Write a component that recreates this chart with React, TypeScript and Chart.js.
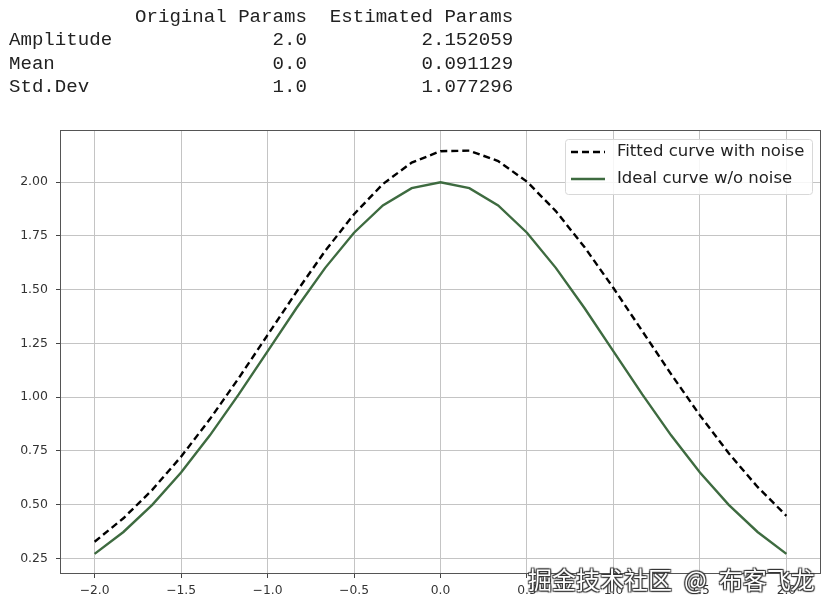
import React, { useEffect, useRef } from "react";
import { Chart, registerables } from "chart.js";

Chart.register(...registerables);

const xValues = [
  -2.0, -1.8333, -1.6667, -1.5, -1.3333, -1.1667, -1.0, -0.8333, -0.6667, -0.5, -0.3333, -0.1667,
  0.0, 0.1667, 0.3333, 0.5, 0.6667, 0.8333, 1.0, 1.1667, 1.3333, 1.5, 1.6667, 1.8333, 2.0,
];
const fittedValues = [
  0.3271, 0.4364, 0.5685, 0.723, 0.8978, 1.0885, 1.2886, 1.4891, 1.6804, 1.8513, 1.9914, 2.0913,
  2.1444, 2.1468, 2.0984, 2.0025, 1.8658, 1.6974, 1.5076, 1.3073, 1.107, 0.9151, 0.7385, 0.582, 0.4478,
];
const idealValues = [
  0.2707, 0.3725, 0.4987, 0.6493, 0.8222, 1.0127, 1.2131, 1.4134, 1.6015, 1.765, 1.8919, 1.9724,
  2.0, 1.9724, 1.8919, 1.765, 1.6015, 1.4134, 1.2131, 1.0127, 0.8222, 0.6493, 0.4987, 0.3725, 0.2707,
];
const xTicks = [-2.0, -1.5, -1.0, -0.5, 0.0, 0.5, 1.0, 1.5, 2.0];
const yTicks = [0.25, 0.5, 0.75, 1.0, 1.25, 1.5, 1.75, 2.0];
const seriesLabels = ["Fitted curve with noise", "Ideal curve w/o noise"];
const tableLines = [
  "           Original Params  Estimated Params",
  "Amplitude              2.0          2.152059",
  "Mean                   0.0          0.091129",
  "Std.Dev                1.0          1.077296",
];

const minus = (s: string) => s.replace("-", "\u2212");

const framePlugin = {
  id: "frameAndLegend",
  afterDraw(chart: any) {
    const { ctx, chartArea } = chart;
    ctx.save();
    ctx.strokeStyle = "#555";
    ctx.lineWidth = 1;
    ctx.setLineDash([]);
    ctx.strokeRect(chartArea.left + 0.5, chartArea.top + 0.5, chartArea.right - chartArea.left - 1, chartArea.bottom - chartArea.top - 1);

    // legend
    const bx = chartArea.right - 256;
    const by = chartArea.top + 9;
    const bw = 247;
    const bh = 55;
    ctx.fillStyle = "rgba(255,255,255,0.85)";
    ctx.strokeStyle = "#d8d8d8";
    ctx.beginPath();
    if (ctx.roundRect) ctx.roundRect(bx + 0.5, by + 0.5, bw, bh, 3);
    else ctx.rect(bx + 0.5, by + 0.5, bw, bh);
    ctx.fill();
    ctx.stroke();
    chart.data.datasets.forEach((ds: any, i: number) => {
      const y = by + 13 + i * 27;
      ctx.strokeStyle = ds.borderColor;
      ctx.lineWidth = ds.borderWidth;
      ctx.setLineDash(ds.borderDash || []);
      ctx.beginPath();
      ctx.moveTo(bx + 6, y);
      ctx.lineTo(bx + 40, y);
      ctx.stroke();
      ctx.setLineDash([]);
      ctx.fillStyle = "#222";
      ctx.font = "16.5px 'DejaVu Sans'";
      ctx.textBaseline = "middle";
      ctx.fillText(ds.label, bx + 52, y);
    });
    ctx.restore();
  },
};

export default function App() {
  const ref = useRef<HTMLCanvasElement>(null);
  useEffect(() => {
    if (!ref.current) return;
    const chart = new Chart(ref.current, {
      type: "line",
      data: {
        datasets: [
          {
            label: seriesLabels[0],
            data: xValues.map((x, i) => ({ x, y: fittedValues[i] })),
            borderColor: "#000000",
            borderWidth: 2.4,
            borderDash: [7, 4],
            pointRadius: 0,
            tension: 0,
            fill: false,
          },
          {
            label: seriesLabels[1],
            data: xValues.map((x, i) => ({ x, y: idealValues[i] })),
            borderColor: "#3e6b40",
            borderWidth: 2.4,
            pointRadius: 0,
            tension: 0,
            fill: false,
          },
        ],
      },
      options: {
        animation: false,
        responsive: false,
        events: [],
        layout: { padding: { top: 130, right: 11, left: 0, bottom: 0 } },
        plugins: { legend: { display: false }, tooltip: { enabled: false } },
        scales: {
          x: {
            type: "linear",
            min: -2.2,
            max: 2.2,
            afterBuildTicks: (s: any) => {
              s.ticks = xTicks.map((v) => ({ value: v }));
            },
            afterFit: (s: any) => {
              s.height = 38;
            },
            ticks: {
              callback: (v: any) => minus(Number(v).toFixed(1)),
              color: "#333",
              font: { family: "DejaVu Sans", size: 12.3 },
              padding: 5,
              maxRotation: 0,
            },
            grid: { color: "#c4c4c4", lineWidth: 1, tickLength: 4, tickColor: "#444" },
            border: { display: false },
          },
          y: {
            type: "linear",
            min: 0.177,
            max: 2.243,
            afterBuildTicks: (s: any) => {
              s.ticks = yTicks.map((v) => ({ value: v }));
            },
            afterFit: (s: any) => {
              s.width = 60;
            },
            ticks: {
              callback: (v: any) => Number(v).toFixed(2),
              color: "#333",
              font: { family: "DejaVu Sans", size: 12.5 },
              padding: 8,
            },
            grid: { color: "#c4c4c4", lineWidth: 1, tickLength: 4, tickColor: "#444" },
            border: { display: false },
          },
        },
      },
      plugins: [framePlugin],
    });
    return () => chart.destroy();
  }, []);

  return (
    <div style={{ position: "fixed", left: 0, top: 0, width: 832, height: 612, background: "#fff", overflow: "hidden" }}>
      <canvas ref={ref} width={832} height={612} style={{ position: "absolute", left: 0, top: 0, width: 832, height: 612 }} />
      <pre
        style={{
          position: "absolute",
          left: 9,
          top: 6,
          margin: 0,
          fontFamily: "'Liberation Mono', monospace",
          fontSize: 19.1,
          lineHeight: "23.3px",
          color: "#222",
        }}
      >
        {tableLines.join("\n")}
      </pre>
      <div
        style={{
          position: "absolute",
          left: 528,
          top: 563,
          fontFamily: "'Noto Sans CJK SC', sans-serif",
          fontSize: 24,
          lineHeight: "32px",
          color: "#fff",
          textShadow: "1px 1px 1px #333, -1px -1px 1px #333, 1px -1px 1px #333, -1px 1px 1px #333",
          whiteSpace: "pre",
        }}
      >
        {"掘金技术社区\u2002@\u2002布客飞龙"}
      </div>
    </div>
  );
}
